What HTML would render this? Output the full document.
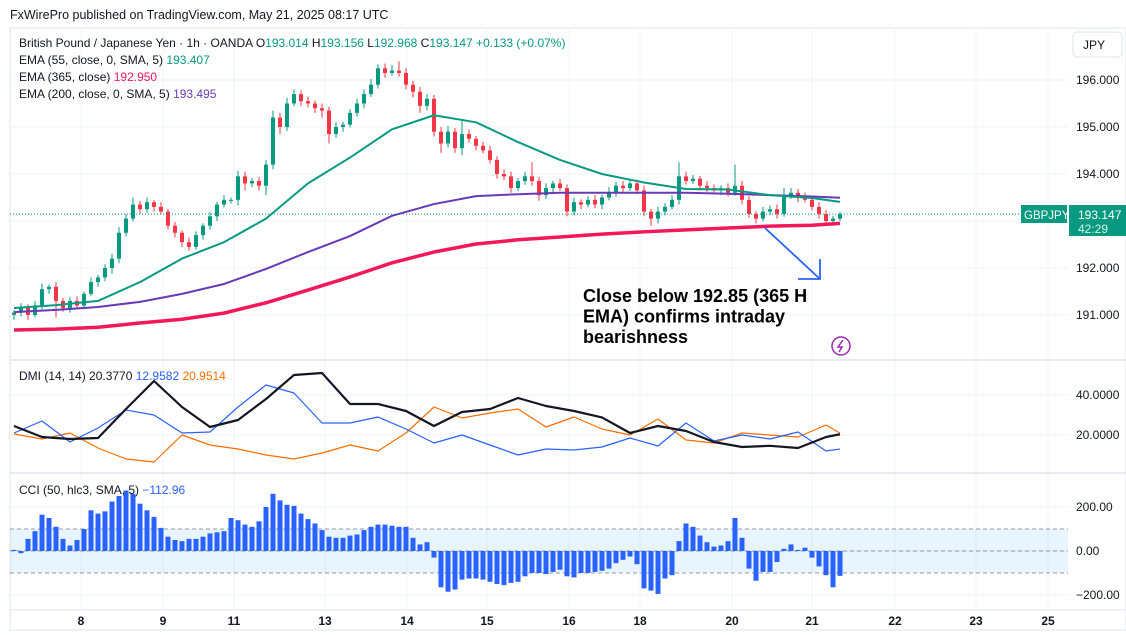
<!DOCTYPE html>
<html><head><meta charset="utf-8"><style>
body{margin:0;background:#fff;width:1126px;height:635px;overflow:hidden;font-family:"Liberation Sans",sans-serif}
svg{position:absolute;left:0;top:0}
</style></head><body>
<svg id="c" width="1126" height="635" xmlns="http://www.w3.org/2000/svg"></svg>
<script>
const closes=[191.05,191.15,191.0,191.2,191.55,191.6,191.3,191.15,191.3,191.2,191.45,191.7,191.8,192.0,192.2,192.75,193.05,193.35,193.25,193.4,193.3,193.2,192.9,192.75,192.55,192.45,192.7,192.9,193.1,193.35,193.45,193.45,193.95,193.8,193.85,193.75,194.2,195.2,195.0,195.5,195.7,195.55,195.5,195.4,195.35,194.85,195.0,195.05,195.3,195.5,195.7,195.9,196.25,196.15,196.2,196.15,195.9,195.75,195.45,195.6,194.9,194.65,194.9,194.55,194.85,194.75,194.6,194.5,194.3,194.0,193.95,193.7,193.85,193.95,193.85,193.55,193.7,193.8,193.7,193.2,193.4,193.35,193.45,193.35,193.5,193.6,193.75,193.7,193.8,193.65,193.2,193.05,193.2,193.3,193.45,193.95,193.85,193.9,193.75,193.7,193.65,193.7,193.6,193.75,193.45,193.15,193.05,193.2,193.25,193.15,193.55,193.6,193.5,193.45,193.3,193.15,193.0,193.05,193.147];
const wickUp=[0.05,0.1,0.08,0.1,0.12,0.05,0.1,0.06,0.08,0.1,0.05,0.1,0.05,0.08,0.1,0.12,0.1,0.15,0.08,0.1,0.05,0.1,0.06,0.08,0.05,0.1,0.08,0.05,0.1,0.06,0.1,0.05,0.12,0.1,0.06,0.08,0.1,0.15,0.1,0.12,0.1,0.08,0.1,0.06,0.1,0.08,0.1,0.06,0.08,0.1,0.1,0.12,0.08,0.1,0.12,0.2,0.1,0.08,0.1,0.1,0.08,0.1,0.12,0.08,0.3,0.1,0.06,0.08,0.1,0.08,0.1,0.1,0.06,0.1,0.3,0.08,0.1,0.06,0.1,0.08,0.1,0.06,0.08,0.1,0.06,0.12,0.08,0.1,0.06,0.08,0.1,0.06,0.1,0.08,0.1,0.3,0.1,0.08,0.06,0.1,0.08,0.06,0.1,0.45,0.1,0.08,0.06,0.1,0.08,0.1,0.15,0.1,0.08,0.1,0.06,0.1,0.08,0.06,0.05];
const wickDn=[0.1,0.08,0.1,0.05,0.08,0.1,0.35,0.08,0.1,0.06,0.08,0.05,0.1,0.08,0.12,0.1,0.08,0.06,0.1,0.08,0.1,0.06,0.08,0.1,0.1,0.08,0.06,0.1,0.08,0.1,0.06,0.08,0.12,0.15,0.08,0.1,0.2,0.1,0.15,0.08,0.06,0.1,0.08,0.1,0.15,0.2,0.08,0.1,0.06,0.08,0.1,0.06,0.08,0.1,0.06,0.08,0.1,0.12,0.15,0.1,0.1,0.2,0.08,0.1,0.15,0.08,0.1,0.06,0.08,0.1,0.08,0.1,0.06,0.08,0.1,0.12,0.08,0.1,0.06,0.1,0.08,0.1,0.06,0.08,0.1,0.06,0.08,0.1,0.06,0.08,0.1,0.15,0.1,0.08,0.06,0.1,0.08,0.06,0.1,0.08,0.06,0.1,0.08,0.06,0.1,0.08,0.1,0.06,0.08,0.1,0.06,0.08,0.1,0.06,0.08,0.1,0.08,0.1,0.05];
const ema55=[191.15,191.21,191.3,191.7,192.2,192.55,193.05,193.8,194.35,194.95,195.25,195.1,194.68,194.3,194.0,193.82,193.68,193.67,193.55,193.49,193.407];
const ema200=[191.06,191.11,191.17,191.28,191.45,191.66,191.98,192.34,192.68,193.11,193.36,193.53,193.57,193.6,193.6,193.6,193.6,193.58,193.55,193.52,193.495];
const ema365=[190.68,190.70,190.74,190.83,190.91,191.04,191.26,191.53,191.81,192.11,192.34,192.51,192.6,192.66,192.72,192.77,192.81,192.85,192.89,192.91,192.95];
const adx=[24.5,19,18,18.5,33,47,34,24,27.5,38,50,51,35.5,35.5,32,24.5,31.5,33,38.5,34.5,32,28.8,21,24.5,22,16.5,14,14.6,13.5,19,20.377];
const diPlus=[21,27,16.5,23.5,32.5,30,21,21.5,34,45,41,26,26,29,23,16,20,15,10,13,12.5,14,18.5,14.5,26,17,20,18,21.5,12,12.958];
const diMinus=[20.5,18,21,13.5,8,6.5,20,15,13,10,8,11,15,12,21,34,28.5,31,33,24,29,23,20,28,17.5,16,21,20,19,25,20.951];
const cci=[5,-10,55,90,165,150,110,55,25,50,100,185,170,180,225,250,275,260,215,185,155,105,65,50,45,55,55,65,80,85,90,150,140,120,110,135,200,260,230,210,205,170,145,125,95,65,60,60,70,75,95,110,120,120,115,110,110,60,30,40,-30,-165,-185,-175,-130,-125,-125,-130,-140,-150,-155,-145,-140,-115,-100,-100,-105,-95,-85,-115,-120,-100,-100,-95,-90,-80,-55,-40,-25,-60,-170,-180,-195,-125,-110,45,125,110,70,40,20,25,45,150,60,-80,-135,-95,-95,-50,10,30,5,15,-30,-70,-110,-165,-112.96];
const dateLabels=["8","9","11","13","14","15","16","18","20","21","22","23","25"];
const priceTicks=[196,195,194,193,192,191];
const dmiTicks=[40,20];
const cciTicks=[200,0,-200];

const S=document.getElementById('c');const NS='http://www.w3.org/2000/svg';
function el(t,a,p){const e=document.createElementNS(NS,t);for(const k in a)e.setAttribute(k,a[k]);(p||S).appendChild(e);return e;}
function txt(x,y,s,a){const e=el('text',Object.assign({x:x,y:y,'font-size':12,fill:'#131722'},a||{}));e.textContent=s;return e;}
const xi=i=>14+7*i;
const yP=p=>80+(196-p)*47;
const yD=v=>435-(v-20)*2;
const yC=v=>551-v*0.22;
const dateX=[81,163,234,325,407,487,569,640,732,812,895,976,1048];
el('rect',{x:10,y:28,width:1116,height:602,fill:'none',stroke:'#e0e3eb'});
dateX.forEach(x=>{const g=el('line',{x1:x,x2:x,y1:28,y2:610,stroke:'#f0f3fa'});});
priceTicks.forEach(p=>{el('line',{x1:10,x2:1068,y1:yP(p),y2:yP(p),stroke:'#f0f3fa'});const t=txt(1076,yP(p)+4,p.toFixed(3));});
el('line',{x1:10,x2:1126,y1:360,y2:360,stroke:'#e0e3eb','stroke-width':1.5});
el('line',{x1:10,x2:1126,y1:473,y2:473,stroke:'#e0e3eb','stroke-width':1.5});
el('line',{x1:10,x2:1126,y1:610,y2:610,stroke:'#e0e3eb'});
dmiTicks.forEach(v=>{el('line',{x1:10,x2:1068,y1:yD(v),y2:yD(v),stroke:'#f0f3fa'});const t=txt(1076,yD(v)+4,v.toFixed(4));});
cciTicks.forEach(v=>{el('line',{x1:10,x2:1068,y1:yC(v),y2:yC(v),stroke:'#f0f3fa'});const t=txt(1076,yC(v)+4,(v<0?'−':'')+Math.abs(v).toFixed(2));});
dateLabels.forEach((d,k)=>{const t=txt(dateX[k],625,d,{'text-anchor':'middle','font-weight':'bold'});});
const h=txt(10,19,'FxWirePro published on TradingView.com, May 21, 2025 08:17 UTC',{'font-size':12.5});
const jb=el('rect',{x:1073,y:32,width:49,height:25,rx:4,fill:'#fff',stroke:'#e0e3eb'});
txt(1083,49,'JPY');
function line(arr,yf,color,w,name){const pts=arr.map((v,k)=>xi(Math.min(k*6,118))+','+yf(v)).join(' ');const e=el('polyline',{points:pts,fill:'none',stroke:color,'stroke-width':w,'stroke-linejoin':'round'});}
closes.forEach((c,i)=>{const o=i?closes[i-1]:c-0.05;const up=c>=o;const col=up?'#089981':'#f23645';const x=xi(i);
 const hi=Math.max(o,c)+wickUp[i],lo=Math.min(o,c)-wickDn[i];
 const g=el('g',{});
 el('line',{x1:x,x2:x,y1:yP(hi),y2:yP(lo),stroke:col,'stroke-width':1},g);
 const t=yP(Math.max(o,c)),b=yP(Math.min(o,c));el('rect',{x:x-2,y:t,width:4,height:Math.max(1,b-t),fill:col},g);});
line(ema365,yP,'#f2185a',3.5,'ema-365-line');
line(ema200,yP,'#673ab7',2,'ema-200-line');
line(ema55,yP,'#089981',2,'ema-55-line');
const pl=el('line',{x1:10,x2:1068,y1:yP(193.147),y2:yP(193.147),stroke:'#089981','stroke-dasharray':'1 2'});
const sl=el('rect',{x:1021,y:205,width:46,height:18,fill:'#089981'});
txt(1024,219,'GBPJPY',{fill:'#fff','font-size':11.5});
const pb=el('rect',{x:1069,y:205,width:57,height:31,fill:'#089981'});
txt(1078,219,'193.147',{fill:'#fff','font-size':12});txt(1078,233,'42:29',{fill:'#d8f0ea','font-size':12});
function leg(y,parts,name){const t=el('text',{x:19,y:y,'font-size':12});parts.forEach(p=>{const s=el('tspan',{fill:p[1]},t);s.textContent=p[0];});}
leg(47,[['British Pound / Japanese Yen · 1h · OANDA  ','#131722'],['O','#131722'],['193.014  ','#089981'],['H','#131722'],['193.156  ','#089981'],['L','#131722'],['192.968  ','#089981'],['C','#131722'],['193.147  +0.133 (+0.07%)','#089981']],'symbol-legend');
leg(64,[['EMA (55, close, 0, SMA, 5)  ','#131722'],['193.407','#089981']],'ema55-legend');
leg(81,[['EMA (365, close)  ','#131722'],['192.950','#f2185a']],'ema365-legend');
leg(98,[['EMA (200, close, 0, SMA, 5)  ','#131722'],['193.495','#673ab7']],'ema200-legend');
const ar=el('g',{});
el('line',{x1:765,y1:228,x2:820,y2:279,stroke:'#2962ff','stroke-width':1.8},ar);
el('polyline',{points:'820,259 820,279 798,279',fill:'none',stroke:'#2962ff','stroke-width':1.8},ar);
const an=el('text',{x:583,y:302,'font-size':18,'font-weight':'bold',fill:'#000','font-family':'Liberation Sans, sans-serif'});
['Close below 192.85 (365 H','EMA) confirms intraday','bearishness'].forEach((s,k)=>{const t=el('tspan',{x:583,dy:k?20.5:0},an);t.textContent=s;});
const lg=el('g',{});
el('circle',{cx:841,cy:346,r:9,fill:'#fff',stroke:'#9c27b0','stroke-width':1.5},lg);
el('path',{d:'M843,340 L838,347 L842,347 L839,352',fill:'none',stroke:'#9c27b0','stroke-width':1.5},lg);
function dline(arr,color,w,name){const pts=arr.map((v,k)=>xi(Math.min(k*4,118))+','+yD(v)).join(' ');const e=el('polyline',{points:pts,fill:'none',stroke:color,'stroke-width':w,'stroke-linejoin':'round'});}
dline(diMinus,'#ff6d00',1.2,'di-minus-line');
dline(diPlus,'#2962ff',1.2,'di-plus-line');
dline(adx,'#131722',2.2,'adx-line');
leg(380,[['DMI (14, 14)  ','#131722'],['20.3770  ','#131722'],['12.9582  ','#2962ff'],['20.9514','#ff6d00']],'dmi-legend');
const band=el('rect',{x:10,y:yC(100),width:1058,height:yC(-100)-yC(100),fill:'#2196f3','fill-opacity':0.1});
[100,0,-100].forEach(v=>el('line',{x1:10,x2:1068,y1:yC(v),y2:yC(v),stroke:'#787b86','stroke-dasharray':'4 3','stroke-width':0.8}));
cci.forEach((v,i)=>{const y0=yC(0),y1=yC(v);const b=el('rect',{x:xi(i)-2.5,y:Math.min(y0,y1),width:5,height:Math.abs(y1-y0),fill:'#2962ff'});});
leg(494,[['CCI (50, hlc3, SMA, 5)  ','#131722'],['−112.96','#2962ff']],'cci-legend');
</script>
</body></html>
